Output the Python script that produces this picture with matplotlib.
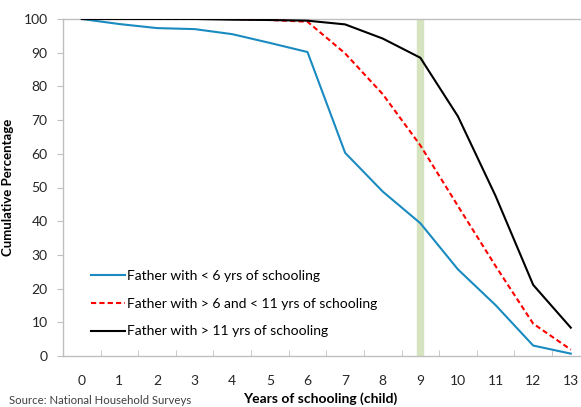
import matplotlib.pyplot as plt

# years of schooling of the child (category axis)
years = list(range(14))

# cumulative percentage by father's schooling
father_lt6 = [100, 98.5, 97.3, 97.0, 95.5, 92.9, 90.2, 60.3, 48.8, 39.4, 25.7, 15.1, 3.1, 0.7]
father_6_11 = [100, 100, 100, 100, 100, 99.7, 99.2, 89.8, 77.7, 62.5, 44.5, 26.7, 9.6, 1.9]
father_gt11 = [100, 100, 100, 100, 99.8, 99.7, 99.5, 98.4, 94.2, 88.5, 71.1, 47.5, 21.1, 8.4]

labels = ["Father with < 6 yrs of schooling",
          "Father with > 6 and < 11 yrs of schooling",
          "Father with > 11 yrs of schooling"]

plt.rcParams['font.family'] = ['Lato', 'DejaVu Sans']

fig = plt.figure(figsize=(5.81, 4.07), dpi=100)
ax = fig.add_axes([63 / 581, 1 - 356 / 407, 526.6 / 581, 337 / 407])

ax.axvspan(8.92, 9.08, color='#d5e4bf', zorder=1)
ax.plot(years, father_lt6, color='#1a8bc0', lw=1.5, label=labels[0], zorder=3)
ax.plot(years, father_6_11, color='#ff0000', lw=1.5, ls=(0, (2.5, 1.5)), label=labels[1], zorder=3)
ax.plot(years, father_gt11, color='black', lw=1.5, label=labels[2], zorder=3)

ax.set_xlim(-0.5, 13.5)
ax.set_ylim(0, 100)
ax.set_yticks(range(0, 101, 10))
ax.set_xticks(years)
ax.set_xticks([x + 0.5 for x in years[:-1]], minor=True)

for s in ax.spines.values():
    s.set_color('#bfbfbf')
    s.set_linewidth(1)

ax.tick_params(axis='x', which='major', length=0, pad=14, labelsize=10, colors='#262626')
ax.tick_params(axis='x', which='minor', length=4, direction='in', color='#bfbfbf')
ax.tick_params(axis='y', length=4, direction='out', color='#bfbfbf', pad=7, labelsize=10,
               labelcolor='#262626')

ax.set_ylabel("Cumulative Percentage", fontsize=9.5, fontweight='bold', labelpad=7)
fig.text(320 / 581, 1 - 399 / 407, "Years of schooling (child)", fontsize=10, fontweight='bold',
         ha='center', va='center')
fig.text(9 / 581, 0.5 / 407, "Source: National Household Surveys", fontsize=8.2,
         ha='left', va='bottom', color='#404040')

ax.legend(loc='lower left', bbox_to_anchor=(0.03, 0.018), frameon=False, fontsize=10,
          handlelength=2.4, handletextpad=0.15, labelspacing=1.12)

fig.savefig("out.png", dpi=100)
